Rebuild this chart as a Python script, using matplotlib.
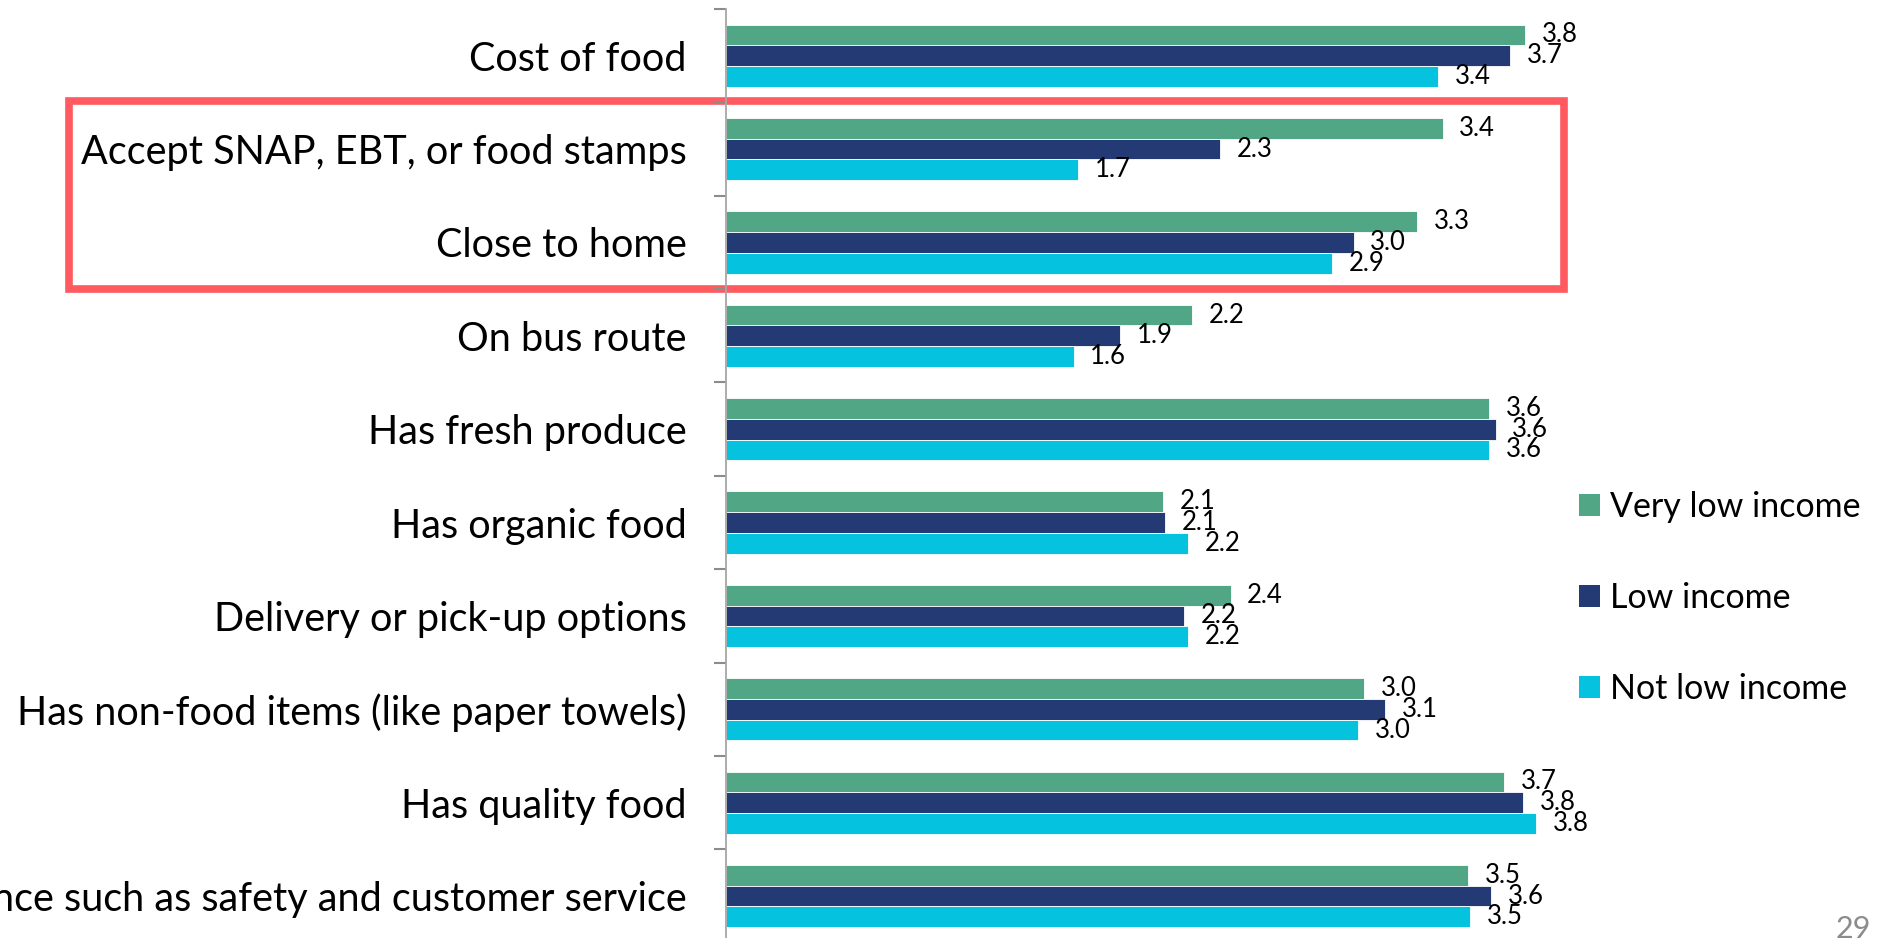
import matplotlib
matplotlib.use("Agg")
import matplotlib.pyplot as plt
from matplotlib.patches import Rectangle
import numpy as np

# ---------------- data ----------------
categories = [
    "Cost of food",
    "Accept SNAP, EBT, or food stamps",
    "Close to home",
    "On bus route",
    "Has fresh produce",
    "Has organic food",
    "Delivery or pick-up options",
    "Has non-food items (like paper towels)",
    "Has quality food",
    "Store experience such as safety and customer service",
]
series_names = ["Very low income", "Low income", "Not low income"]
very_low = [3.77, 3.38, 3.26, 2.20, 3.60, 2.06, 2.38, 3.01, 3.67, 3.50]
low = [3.70, 2.33, 2.96, 1.86, 3.63, 2.07, 2.16, 3.11, 3.76, 3.61]
not_low = [3.36, 1.66, 2.86, 1.64, 3.60, 2.18, 2.18, 2.98, 3.82, 3.51]
page_number = "29"

# ---------------- style ----------------
GREEN = "#51A685"
NAVY = "#243A74"
CYAN = "#05C3DE"
colors = [GREEN, NAVY, CYAN]
FONT = ["Lato", "DejaVu Sans"]
plt.rcParams["font.family"] = FONT

W, H = 1890, 938
fig = plt.figure(figsize=(W / 100, H / 100), dpi=100)
fig.patch.set_facecolor("white")

x0 = 726          # pixel x of the value axis
ppu = 212         # pixels per unit
xmax = 4.5
top_px, bot_px = 9.0, 942.7
ax = fig.add_axes([x0 / W, (H - bot_px) / H, xmax * ppu / W, (bot_px - top_px) / H])
ax.patch.set_visible(False)

y = np.arange(len(categories))
bh = 0.222
for k, (vals, name, col) in enumerate(zip([very_low, low, not_low], series_names, colors)):
    cont = ax.barh(y + (k - 1) * bh, vals, height=bh, color=col, label=name,
                   edgecolor="white", linewidth=0.6, zorder=2)
    ax.bar_label(cont, labels=[f"{v:.1f}" for v in vals], padding=12,
                 fontsize=18.5, color="black", zorder=3)

ax.set_ylim(len(categories) - 0.5, -0.5)
ax.set_xlim(0, xmax)
ax.xaxis.set_visible(False)
for s in ["top", "right", "bottom"]:
    ax.spines[s].set_visible(False)
ax.spines["left"].set_color("#A6A6A6")
ax.spines["left"].set_linewidth(1.3)

ax.set_yticks(y)
ax.set_yticklabels(categories, fontsize=28.5)
ax.tick_params(axis="y", which="major", length=0, pad=28.5)
ax.set_yticks(np.arange(-0.5, len(categories), 1), minor=True)
ax.tick_params(axis="y", which="minor", length=8.5, width=1.5, color="#8C8C8C",
               direction="out")

# legend
handles = [Rectangle((0, 0), 1, 1, facecolor=c, edgecolor="none") for c in colors]
leg = fig.legend(handles, series_names, loc="upper left",
                 bbox_to_anchor=(1579 / W, 1 - 491 / H),
                 frameon=False, fontsize=24.5, handlelength=0.62, handleheight=0.62,
                 handletextpad=0.3, labelspacing=1.74, borderpad=0, borderaxespad=0)

# highlight box
box = Rectangle((69 / W, 1 - 289 / H), (1564 - 69) / W, (289 - 101.5) / H,
                transform=fig.transFigure, fill=False, edgecolor="#FF5A5F",
                linewidth=5.5, zorder=-1)
fig.add_artist(box)

# page number
fig.text(1836 / W, 1 - 938 / H, page_number, ha="left", va="baseline",
         fontsize=22, color="#8C8C8C")

fig.savefig("out.png", dpi=100)
